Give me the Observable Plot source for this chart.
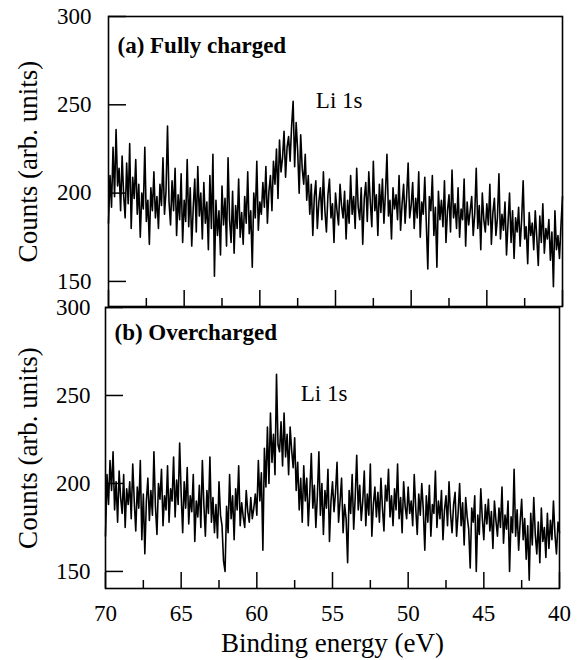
<!DOCTYPE html>
<html><head><meta charset="utf-8">
<script src="https://cdn.jsdelivr.net/npm/d3@7"></script>
<script src="https://cdn.jsdelivr.net/npm/@observablehq/plot@0.6"></script>
<style>
body{margin:0;background:#fff;}
#wrap{position:relative;width:578px;height:660px;overflow:hidden;background:#fff;}
#top,#bot{position:absolute;left:0;}
#top{top:0px;}
#bot{top:291px;}
#wrap svg{background:transparent !important;}
#wrap svg, #wrap svg g, #wrap svg text{font-family:"Liberation Serif","Times New Roman",serif !important;}
</style></head><body><div id="wrap"><div id="bot"></div><div id="top"></div></div>
<script>
// Energy grid: 70.0 eV down to 40.0 eV in 0.1 eV steps
const energyStart = 70;
const energyStep = 0.1;

// (a) Fully charged — counts
const countsFull = [
183,210,192,226,198,236,204,214,190,221,
199,186,217,194,228,180,209,197,219,188,
205,175,200,191,226,184,196,171,203,190,
212,186,198,180,205,193,220,188,201,238,
195,182,207,190,214,176,199,185,211,172,
196,184,219,181,203,170,192,208,178,215,
187,200,174,206,183,195,168,210,180,222,
153,196,176,190,165,204,182,197,170,220,
185,172,201,166,193,180,208,175,189,171,
198,183,212,177,190,158,200,186,218,179,
195,188,206,192,215,183,201,210,190,218,
205,225,197,230,212,220,235,209,226,232,
218,238,252,215,240,224,200,233,214,205,
222,196,210,188,205,176,198,207,180,195,
203,185,212,190,178,199,208,186,194,172,
200,190,182,205,193,186,201,174,196,183,
210,188,198,180,214,192,185,203,171,197,
206,184,212,195,181,218,190,199,176,205,
189,208,183,200,222,187,196,174,203,191,
199,185,210,179,194,205,183,198,217,186,
193,206,180,197,186,212,175,195,188,209,
183,157,198,190,210,176,192,158,201,185,
196,181,207,172,190,199,178,213,186,194,
180,203,175,191,185,208,170,195,182,190,
198,176,188,214,180,193,168,200,185,178,
194,182,205,171,189,197,176,186,211,174,
188,179,195,165,183,200,172,190,163,186,
178,192,170,185,207,174,181,160,189,176,
183,168,190,175,159,187,172,194,166,180,
174,185,162,178,147,190,168,176,163,182,
198
];

// (b) Overcharged — counts
const countsOver = [
170,205,188,213,196,218,185,201,178,207,
192,183,205,175,197,188,201,180,211,190,
173,198,186,213,168,194,160,190,203,179,
196,182,218,187,171,200,191,208,176,193,
185,210,178,197,190,215,181,202,188,223,
194,172,201,186,209,177,193,184,205,167,
190,181,199,175,213,188,170,196,183,215,
178,192,172,188,169,201,182,176,156,150,
187,172,205,180,193,168,197,185,210,176,
189,181,175,196,184,178,192,180,186,194,
182,213,190,206,162,220,198,232,200,240,
212,228,205,262,222,218,235,210,240,215,
228,205,232,219,209,226,196,212,185,203,
178,210,190,203,176,195,217,186,199,175,
193,218,182,200,171,196,186,208,167,190,
201,184,195,212,178,190,203,172,188,180,
155,196,183,205,174,192,216,185,199,179,
190,207,176,194,182,211,170,188,198,181,
195,178,203,186,173,199,190,208,181,193,
176,197,185,211,180,192,172,201,187,180,
198,183,190,176,205,186,171,194,182,200,
185,162,193,178,199,170,188,183,207,175,
190,180,196,168,185,193,176,201,183,172,
188,195,170,183,200,176,189,165,192,181,
174,152,186,178,193,150,182,171,197,180,
168,188,177,191,173,184,163,190,179,170,
186,175,198,166,182,174,190,150,181,172,
208,170,185,162,178,191,168,180,157,176,
145,183,165,192,171,160,178,155,186,167,
175,158,183,163,179,168,190,171,160,178,
172
];

const yTicks = [150, 200, 250, 300];
const xMajorTicks = [70, 65, 60, 55, 50, 45, 40];
const xMinorTicks = [67.5, 62.5, 57.5, 52.5, 47.5, 42.5];
const panelTitles = ["(a) Fully charged", "(b) Overcharged"];
const peakLabel = "Li 1s";
const yLabel = "Counts (arb. units)";
const xLabel = "Binding energy (eV)";

const FONT = "Liberation Serif";

function toRows(counts) {
  return counts.map((c, i) => ({e: +(energyStart - i * energyStep).toFixed(2), c}));
}

function panel(o) {
  const marks = [
    Plot.line(toRows(o.counts), {x: "e", y: "c", stroke: "#000", strokeWidth: 1.6}),
    Plot.frame({stroke: "#000", strokeWidth: 1.6}),
    Plot.axisY(yTicks, {tickSize: 18, dx: 18, tickFormat: () => "", strokeWidth: 1.5}),
    Plot.axisY(yTicks, {tickSize: 0, tickPadding: o.yPad, fontSize: 23, fontFamily: FONT, fill: "#000"}),
    Plot.axisX(xMajorTicks, {tickSize: 16, dy: -16, tickFormat: () => "", strokeWidth: 1.5}),
    Plot.axisX(xMinorTicks, {tickSize: 8, dy: -8, tickFormat: () => "", strokeWidth: 1.5}),
    Plot.text([o.title], {frameAnchor: "top-left", dx: o.titleDx, dy: o.titleDy, text: d => d,
      fontWeight: "bold", fontSize: 23, fontFamily: FONT, textAnchor: "start", lineAnchor: "middle", fill: "#000"}),
    Plot.text([peakLabel], {x: o.peak[0], y: o.peak[1], text: d => d, textAnchor: "start",
      lineAnchor: "middle", fontSize: 23, fontFamily: FONT, fill: "#000"}),
    Plot.text([yLabel], {frameAnchor: "left", dx: o.yLabDx, rotate: -90, text: d => d,
      fontSize: 27, fontFamily: FONT, textAnchor: "middle", lineAnchor: "middle", fill: "#000"})
  ];
  if (o.showX) {
    marks.push(Plot.axisX(xMajorTicks, {tickSize: 0, tickPadding: 16, fontSize: 23, fontFamily: FONT, fill: "#000"}));
    marks.push(Plot.text([xLabel], {frameAnchor: "bottom", dy: 55, text: d => d,
      fontSize: 27, fontFamily: FONT, textAnchor: "middle", lineAnchor: "middle", fill: "#000"}));
  }
  return Plot.plot({
    width: 578,
    height: o.height,
    marginLeft: o.ml, marginRight: o.mr, marginTop: o.mt, marginBottom: o.mb,
    style: {background: "transparent", overflow: "visible", color: "#000", fontFamily: FONT},
    x: {domain: [70, 40], label: null},
    y: {domain: o.yDomain, label: null},
    marks
  });
}

document.getElementById("top").append(panel({
  counts: countsFull, yDomain: [135.8, 300], title: panelTitles[0],
  peak: [56.3, 252.5], height: 310, ml: 108, mr: 16, mt: 16, mb: 4,
  yPad: 17, titleDx: 9, titleDy: 29, yLabDx: -80, showX: false
}));
document.getElementById("bot").append(panel({
  counts: countsOver, yDomain: [140.3, 300], title: panelTitles[1],
  peak: [57.1, 251], height: 369, ml: 105, mr: 19, mt: 16, mb: 72,
  yPad: 15, titleDx: 9, titleDy: 25, yLabDx: -77, showX: true
}));
</script></body></html>
